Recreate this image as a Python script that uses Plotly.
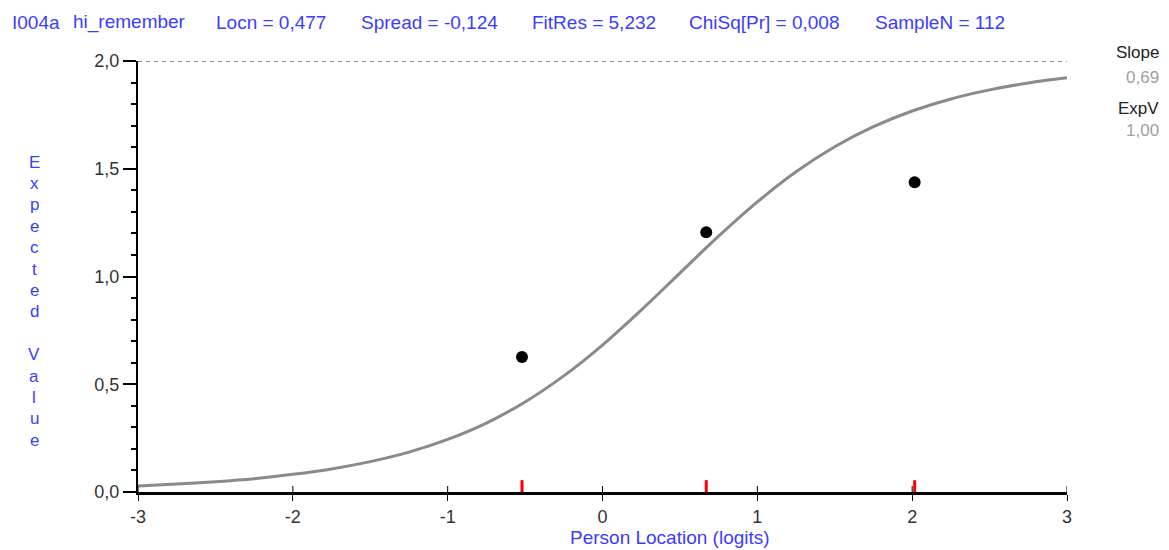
import plotly.graph_objects as go

# ---- data ----
curve_x = [-3, -2.75, -2.5, -2.25, -2, -1.75, -1.5, -1.25, -1, -0.75, -0.5, -0.25, 0,
           0.25, 0.5, 0.75, 1, 1.25, 1.5, 1.75, 2, 2.25, 2.5, 2.75, 3]
curve_y = [0.028, 0.037, 0.048, 0.062, 0.082, 0.107, 0.141, 0.185, 0.244, 0.320, 0.418, 0.539, 0.682,
           0.844, 1.016, 1.187, 1.346, 1.486, 1.602, 1.695, 1.768, 1.824, 1.866, 1.898, 1.922]
obs_x = [-0.52, 0.67, 2.016]
obs_y = [0.626, 1.205, 1.437]
x_ticks = [-3, -2, -1, 0, 1, 2, 3]
x_tick_text = ["-3", "-2", "-1", "0", "1", "2", "3"]
y_ticks = [0, 0.5, 1.0, 1.5, 2.0]
y_tick_text = ["0,0", "0,5", "1,0", "1,5", "2,0"]
header_items = ["I004a", "hi_remember", "Locn = 0,477", "Spread = -0,124",
                "FitRes = 5,232", "ChiSq[Pr] = 0,008", "SampleN = 112"]
header_px = [10, 71, 214, 359, 530, 687, 873]
side_labels = ["Slope", "0,69", "ExpV", "1,00"]
side_colors = ["#222222", "#a0a0a0", "#222222", "#a0a0a0"]
side_py = [53, 78, 108, 130]
y_title_letters = list("Expected Value")
x_title = "Person Location (logits)"
max_score = 2.0

BLUE = "#3c3cff"
FONT = "Liberation Sans, Arial, sans-serif"

# screen geometry (page body has an 8px margin)
OFF = 8
PL, PR, PT, PB = 138, 1067, 61, 492   # plot box in screen pixels
W, H = 1169 - OFF, 550 - OFF
PW = PR - PL
PH = PB - PT


def px_x(sx):
    return (sx - PL) / PW


def px_y(sy):
    return (PB - sy) / PH


fig = go.Figure()

# expected max line (dashed)
fig.add_trace(go.Scatter(x=[x_ticks[0], x_ticks[-1]], y=[max_score, max_score], mode="lines",
                         line=dict(color="#222222", width=1, dash="4px,4px"), hoverinfo="skip",
                         showlegend=False, cliponaxis=False))

# ICC curve
fig.add_trace(go.Scatter(x=curve_x, y=curve_y, mode="lines",
                         line=dict(color="#8a8a8a", width=3, shape="spline"),
                         showlegend=False, cliponaxis=False))

# small upward tick stubs on the x axis (ticks cross the axis)
tx, ty = [], []
for v in x_ticks:
    tx += [v, v, None]
    ty += [0, 0.028, None]
fig.add_trace(go.Scatter(x=tx, y=ty, mode="lines", line=dict(color="black", width=1),
                         showlegend=False, cliponaxis=False, hoverinfo="skip"))

# red class-interval ticks on x axis
rx, ry = [], []
for v in obs_x:
    rx += [v, v, None]
    ry += [0, 0.055, None]
fig.add_trace(go.Scatter(x=rx, y=ry, mode="lines", line=dict(color="#ff0000", width=3),
                         showlegend=False, cliponaxis=False, hoverinfo="skip"))

# observed means
fig.add_trace(go.Scatter(x=obs_x, y=obs_y, mode="markers",
                         marker=dict(color="black", size=12, line=dict(width=0)),
                         showlegend=False, cliponaxis=False))

annotations = []
for txt, sx in zip(header_items, header_px):
    annotations.append(dict(text=txt, xref="paper", yref="paper",
                            x=px_x(sx), y=px_y(22), xanchor="left", yanchor="middle",
                            showarrow=False, font=dict(family=FONT, size=19, color=BLUE)))

for txt, col, sy in zip(side_labels, side_colors, side_py):
    annotations.append(dict(text=txt, xref="paper", yref="paper",
                            x=px_x(1161), y=px_y(sy), xanchor="right", yanchor="middle",
                            showarrow=False, font=dict(family=FONT, size=17, color=col)))

for i, ch in enumerate(y_title_letters):
    if ch == " ":
        continue
    annotations.append(dict(text=ch, xref="paper", yref="paper",
                            x=px_x(34), y=px_y(162 + i * 21.4), xanchor="center", yanchor="middle",
                            showarrow=False, font=dict(family=FONT, size=17, color=BLUE)))

annotations.append(dict(text=x_title, xref="paper", yref="paper",
                        x=px_x(670), y=px_y(537), xanchor="center", yanchor="middle",
                        showarrow=False, font=dict(family=FONT, size=19, color=BLUE)))

fig.update_layout(
    width=W, height=H,
    margin=dict(l=PL - OFF, r=W - (PR - OFF), t=PT - OFF, b=H - (PB - OFF), pad=0),
    paper_bgcolor="white", plot_bgcolor="white",
    separators=", ",
    annotations=annotations,
    font=dict(family=FONT, size=18, color="#333333"),
    xaxis=dict(range=[-3, 3], tickvals=x_ticks, ticktext=x_tick_text, showgrid=False, zeroline=False,
               showline=True, linecolor="black", linewidth=3, ticks="outside", ticklen=6, tickwidth=1,
               tickcolor="black", tickfont=dict(family=FONT, size=18, color="#333333")),
    yaxis=dict(range=[0, 2], tickvals=y_ticks, ticktext=y_tick_text, showgrid=False, zeroline=False,
               showline=True, linecolor="black", linewidth=2, ticks="outside", ticklen=13, tickwidth=2,
               tickcolor="black", tickfont=dict(family=FONT, size=18, color="#333333"),
               minor=dict(ticks="outside", dtick=0.1, ticklen=5, tickwidth=2, tickcolor="black")),
)

fig.write_html("out.html")
